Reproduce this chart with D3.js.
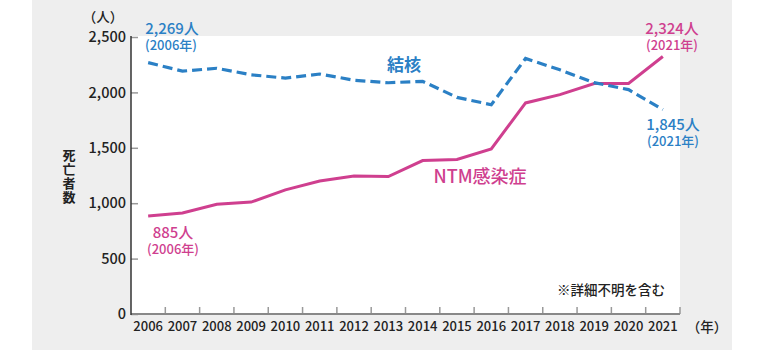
<!DOCTYPE html>
<html><head><meta charset="utf-8">
<script src="https://cdn.jsdelivr.net/npm/d3@7"></script>
<style>
body{margin:0;background:#fff;}
svg{display:block;font-family:"Noto Sans CJK JP","Noto Sans",sans-serif;}
</style></head><body>
<svg id="c" width="765" height="350"></svg>
<script>
const years = ["2006","2007","2008","2009","2010","2011","2012","2013","2014","2015","2016","2017","2018","2019","2020","2021"];
const tbValues = [2269,2192,2218,2159,2129,2166,2110,2087,2100,1955,1889,2306,2204,2088,2025,1845];
const ntmValues = [885,912,990,1010,1120,1200,1245,1240,1385,1395,1490,1905,1980,2080,2080,2324];
const yTicks = [0,500,1000,1500,2000,2500];

(function(){
const svg = d3.select("#c");
const pl = 131, pr = 680, pt = 37, pb = 314;
const blue = "#2b80c5", pink = "#cf3f8f";

svg.append("rect").attr("x",32).attr("y",0).attr("width",700).attr("height",350).attr("fill","#eeeeee");
svg.append("rect").attr("x",pl).attr("y",pt-1).attr("width",pr-pl).attr("height",pb-pt+1).attr("fill","#fff");

const x = d3.scaleBand().domain(years).range([pl,pr]);
const y = d3.scaleLinear().domain([0,2500]).range([pb,pt]);
const fmt = d3.format(",");

const yAxis = d3.axisRight(y).tickValues(yTicks).tickSize(7).tickFormat("");
const gy = svg.append("g").attr("transform",`translate(${pl},0)`).call(yAxis);
gy.select(".domain").remove();
gy.selectAll("line").attr("stroke","#999").attr("stroke-width",1.5);
yTicks.forEach(v=>{
  svg.append("text").attr("x",126).attr("y",y(v)).attr("dy","0.36em").attr("text-anchor","end")
    .attr("font-size",14.5).attr("font-weight",500).attr("fill","#222").text(fmt(v));
});

const bounds = years.slice(1).map(d=>x(d)).concat([pr]);
svg.append("g").selectAll("line").data(bounds).join("line")
  .attr("x1",d=>d).attr("x2",d=>d).attr("y1",pb).attr("y2",pb-7)
  .attr("stroke","#999").attr("stroke-width",1.5);
svg.append("g").selectAll("text").data(years).join("text")
  .attr("x",d=>x(d)+x.bandwidth()/2).attr("y",331).attr("text-anchor","middle")
  .attr("font-size",13).attr("font-weight",500).attr("fill","#222").text(d=>d);

svg.append("line").attr("x1",pl).attr("x2",pr).attr("y1",pb).attr("y2",pb).attr("stroke","#888").attr("stroke-width",2);
svg.append("line").attr("x1",pl).attr("x2",pl).attr("y1",pt-1).attr("y2",pb+1).attr("stroke","#333").attr("stroke-width",1.5);

const line = d3.line().x((d,i)=>x(years[i])+x.bandwidth()/2).y(d=>y(d));
svg.append("path").datum(ntmValues).attr("d",line).attr("fill","none").attr("stroke",pink).attr("stroke-width",3);
svg.append("path").datum(tbValues).attr("d",line).attr("fill","none").attr("stroke",blue).attr("stroke-width",3.2).attr("stroke-dasharray","10,5");

function t(xp,yp,txt,size,col,anchor,weight){
  return svg.append("text").attr("x",xp).attr("y",yp).attr("dy","0.36em").attr("text-anchor",anchor||"start")
    .attr("font-size",size).attr("font-weight",weight||500).attr("fill",col).text(txt);
}
t(103,17,"（人）",13.5,"#222","middle");
t(707,327,"（年）",13.5,"#222","middle");
["死","亡","者","数"].forEach((c,i)=>{
  t(69,155+i*14,c,13,"#222","middle",700);
});
t(172,29,"2,269人",15,blue,"middle");
t(171,45,"(2006年)",13,blue,"middle");
t(173,233,"885人",15,pink,"middle");
t(173,249,"(2006年)",13,pink,"middle");
t(672,29,"2,324人",15,pink,"middle");
t(672,45,"(2021年)",13,pink,"middle");
t(673,125,"1,845人",15,blue,"middle");
t(673,141,"(2021年)",13,blue,"middle");
t(404,65,"結核",17,blue,"middle",700);
t(480,177,"NTM感染症",18,pink,"middle",500);
t(611,290,"※詳細不明を含む",13.5,"#222","middle");
})();
</script></body></html>
